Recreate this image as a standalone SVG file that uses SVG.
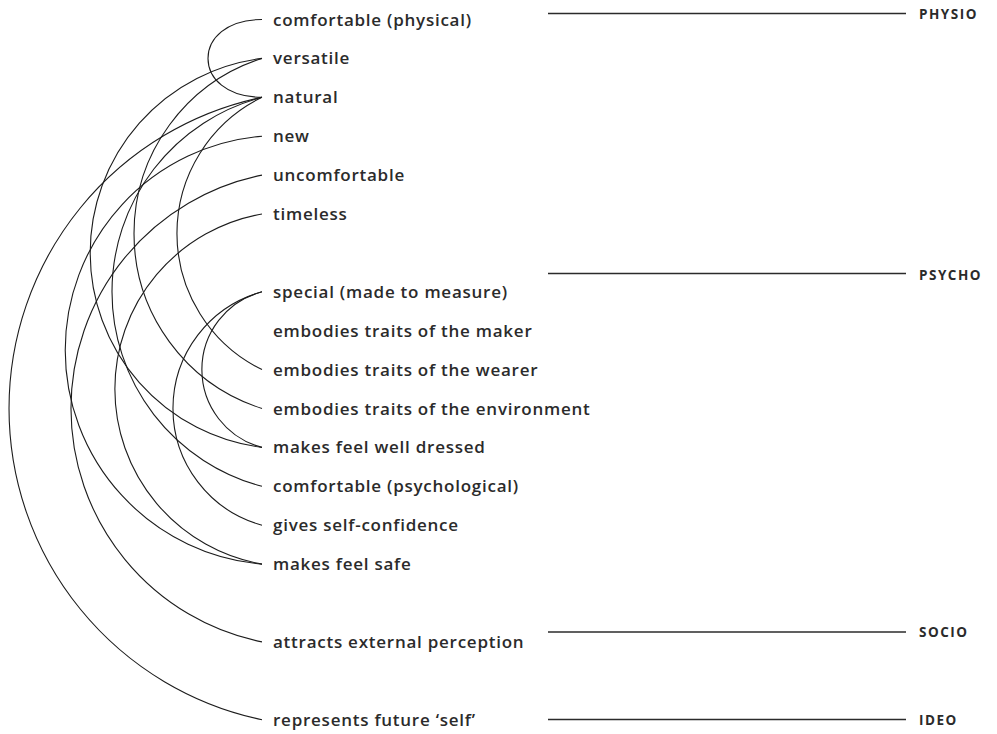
<svg xmlns="http://www.w3.org/2000/svg" width="997" height="734" viewBox="0 0 997 734">
  <style>
    .lbl { font-family: "Open Sans", "Noto Sans", "DejaVu Sans", sans-serif; font-size: 17px; font-weight: 600; fill: #2b2b2b; letter-spacing: 0.75px; }
    .cat { font-family: "Open Sans", "Noto Sans", "DejaVu Sans", sans-serif; font-size: 13.5px; font-weight: 700; fill: #2b2b2b; letter-spacing: 1.5px; }
    .arc { fill: none; stroke: #1c1c1c; stroke-width: 1.1; }
    .rule { fill: none; stroke: #2b2b2b; stroke-width: 1.3; }
  </style>
  <rect width="997" height="734" fill="#ffffff"/>

  <!-- arcs between attributes (all start/end at x=262) -->
  <g id="connectors">
    <!-- comfortable (physical) - natural -->
    <path class="arc" d="M262,19.5 C190,19.5 190,97.3 262,97.3"/>
    <!-- special - well dressed / self-confidence -->
    <path class="arc" d="M262,291.8 A80.4,80.4 0 0 0 262,447.4"/>
    <path class="arc" d="M262,291.8 A121,121 0 0 0 262,525.2"/>
    <!-- natural - future self / wearer / psychological comfort -->
    <path class="arc" d="M262,97.3 A317.9,317.9 0 0 0 262,719.7"/>
    <path class="arc" d="M262,97.3 A151.5,151.5 0 0 0 262,369.6"/>
    <path class="arc" d="M262,97.3 A201.1,201.1 0 0 0 262,486.3"/>
    <!-- versatile - environment / well dressed -->
    <path class="arc" d="M262,58.4 A183.7,183.7 0 0 0 262,408.5"/>
    <path class="arc" d="M262,58.4 A196,196 0 0 0 262,447.4"/>
    <!-- new - safe -->
    <path class="arc" d="M262,136.2 A214.7,214.7 0 0 0 262,564.1"/>
    <!-- uncomfortable - external perception -->
    <path class="arc" d="M262,175.1 A238.1,238.1 0 0 0 262,641.9"/>
    <!-- timeless - safe -->
    <path class="arc" d="M262,214 A177.7,177.7 0 0 0 262,564.1"/>
  </g>

  <!-- attributes -->
  <g id="n-comfortable-physical"><text class="lbl" x="273" y="25.5">comfortable (physical)</text></g>
  <g id="n-versatile"><text class="lbl" x="273" y="64.4">versatile</text></g>
  <g id="n-natural"><text class="lbl" x="273" y="103.3">natural</text></g>
  <g id="n-new"><text class="lbl" x="273" y="142.2">new</text></g>
  <g id="n-uncomfortable"><text class="lbl" x="273" y="181.1">uncomfortable</text></g>
  <g id="n-timeless"><text class="lbl" x="273" y="220">timeless</text></g>
  <g id="n-special"><text class="lbl" x="273" y="297.8">special (made to measure)</text></g>
  <g id="n-maker"><text class="lbl" x="273" y="336.7">embodies traits of the maker</text></g>
  <g id="n-wearer"><text class="lbl" x="273" y="375.6">embodies traits of the wearer</text></g>
  <g id="n-environment"><text class="lbl" x="273" y="414.5">embodies traits of the environment</text></g>
  <g id="n-well-dressed"><text class="lbl" x="273" y="453.4">makes feel well dressed</text></g>
  <g id="n-comfortable-psych"><text class="lbl" x="273" y="492.3">comfortable (psychological)</text></g>
  <g id="n-self-confidence"><text class="lbl" x="273" y="531.2">gives self-confidence</text></g>
  <g id="n-safe"><text class="lbl" x="273" y="570.1">makes feel safe</text></g>
  <g id="n-attracts"><text class="lbl" x="273" y="647.9">attracts external perception</text></g>
  <g id="n-future-self"><text class="lbl" x="273" y="725.7">represents future ‘self’</text></g>

  <!-- categories -->
  <g id="c-physio"><line class="rule" x1="548" y1="13.5" x2="906" y2="13.5"/><text class="cat" x="919" y="19">PHYSIO</text></g>
  <g id="c-psycho"><line class="rule" x1="548" y1="273.5" x2="906" y2="273.5"/><text class="cat" x="919" y="280">PSYCHO</text></g>
  <g id="c-socio"><line class="rule" x1="548" y1="632" x2="906" y2="632"/><text class="cat" x="919" y="637">SOCIO</text></g>
  <g id="c-ideo"><line class="rule" x1="548" y1="719.5" x2="906" y2="719.5"/><text class="cat" x="919" y="725">IDEO</text></g>
</svg>
